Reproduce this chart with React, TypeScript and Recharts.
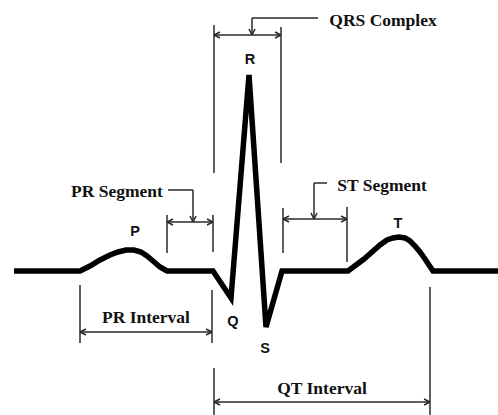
import React from 'react';
import { LineChart, Line, XAxis, YAxis, ReferenceLine, ReferenceDot } from 'recharts';

// ECG trace: time (ms-like units) and amplitude (baseline = 0)
const ecgTime = [14, 80, 90, 100, 110, 118, 126, 134, 141, 147, 153, 160, 167, 213, 231, 249, 266, 282, 348, 356, 364, 372, 380, 387, 393, 399, 405, 410, 415, 420, 425, 429, 433, 498];
const ecgAmplitude = [0, 0, 5, 11, 16, 19, 21, 21, 19, 15, 10, 4, 0, 0, -27, 196, -56, 0, 0, 6, 12, 19, 26, 31, 33, 34, 33, 30, 25, 19, 12, 6, 0, 0];

// Wave letters
const waveNames = ['P', 'Q', 'R', 'S', 'T'];
const waveLabelTime = [135, 233, 250, 265, 398];
const waveLabelAmp = [40, -50, 212, -77, 48];

// Interval / segment annotations
const intervalNames = ['QRS Complex', 'PR Segment', 'ST Segment', 'PR Interval', 'QT Interval'];
const intervalTextTime = [383, 117, 382, 146, 322];
const intervalTextAmp = [251, 80, 86, -46, -117];
const bracketStart = [214, 167, 283, 80, 214];
const bracketEnd = [281, 213, 347, 212, 430];
const bracketAmp = [236, 49, 52, -61, -131];
// boundary markers: top / bottom amplitude at each bracket end
const boundaryStartTop = [246, 56, 63, -14, -97];
const boundaryStartBottom = [98, 18, 18, -72, -144];
const boundaryEndTop = [244, 56, 64, -19, -16];
const boundaryEndBottom = [108, 19, 9, -72, -144];
// leader lines (for labels above): from text side to arrow
const leaderFromTime = [318, 168, 327];
const leaderElbowTime = [252, 193, 314];
const leaderAmp = [253, 81, 88];

const ecgData = ecgTime.map((t, i) => ({ t, v: ecgAmplitude[i] }));

type Seg = [{ x: number; y: number }, { x: number; y: number }];

const segs: Seg[] = [];
const addSeg = (x1: number, y1: number, x2: number, y2: number) => segs.push([{ x: x1, y: y1 }, { x: x2, y: y2 }]);
const HL = 6;
const HW = 3;
const addArrow = (x: number, y: number, dx: number, dy: number) => {
  const px = -dy, py = dx;
  addSeg(x, y, x - HL * dx + HW * px, y - HL * dy + HW * py);
  addSeg(x, y, x - HL * dx - HW * px, y - HL * dy - HW * py);
};

intervalNames.forEach((_, i) => {
  addSeg(bracketStart[i], bracketAmp[i], bracketEnd[i], bracketAmp[i]);
  addArrow(bracketStart[i], bracketAmp[i], -1, 0);
  addArrow(bracketEnd[i], bracketAmp[i], 1, 0);
  addSeg(bracketStart[i], boundaryStartTop[i], bracketStart[i], boundaryStartBottom[i]);
  addSeg(bracketEnd[i], boundaryEndTop[i], bracketEnd[i], boundaryEndBottom[i]);
});
leaderFromTime.forEach((t, i) => {
  addSeg(t, leaderAmp[i], leaderElbowTime[i], leaderAmp[i]);
  addSeg(leaderElbowTime[i], leaderAmp[i], leaderElbowTime[i], bracketAmp[i]);
  addArrow(leaderElbowTime[i], bracketAmp[i], 0, -1);
});

const annColor = '#2a2a2a';

const textShape = (label: string, font: string, size: number) => (p: any) => (
  <text
    x={p.cx}
    y={p.cy}
    textAnchor="middle"
    dominantBaseline="central"
    fontFamily={font}
    fontWeight="bold"
    fontSize={size}
    fill="#111"
  >
    {label}
  </text>
);

export default function App() {
  return (
    <div style={{ position: 'absolute', left: 0, top: 0, width: 498, height: 415, background: '#fff' }}>
      <LineChart width={498} height={415} margin={{ top: 0, right: 0, bottom: 0, left: 0 }}>
        <XAxis type="number" dataKey="t" domain={[0, 498]} hide allowDataOverflow />
        <YAxis type="number" domain={[-144, 271]} hide allowDataOverflow />
        {segs.map((s, i) => (
          <ReferenceLine key={'s' + i} segment={s} stroke={annColor} strokeWidth={1.5} ifOverflow="visible" />
        ))}
        <Line
          data={ecgData}
          dataKey="v"
          type="linear"
          stroke="#000"
          strokeWidth={5.5}
          dot={false}
          activeDot={false}
          isAnimationActive={false}
        />
        {waveNames.map((n, i) => (
          <ReferenceDot
            key={'w' + n}
            x={waveLabelTime[i]}
            y={waveLabelAmp[i]}
            r={0}
            ifOverflow="visible"
            shape={textShape(n, '"Liberation Sans", Arial, sans-serif', 14.5)}
          />
        ))}
        {intervalNames.map((n, i) => (
          <ReferenceDot
            key={'i' + n}
            x={intervalTextTime[i]}
            y={intervalTextAmp[i]}
            r={0}
            ifOverflow="visible"
            shape={textShape(n, '"Liberation Serif", "Times New Roman", serif', 17.5)}
          />
        ))}
      </LineChart>
    </div>
  );
}
